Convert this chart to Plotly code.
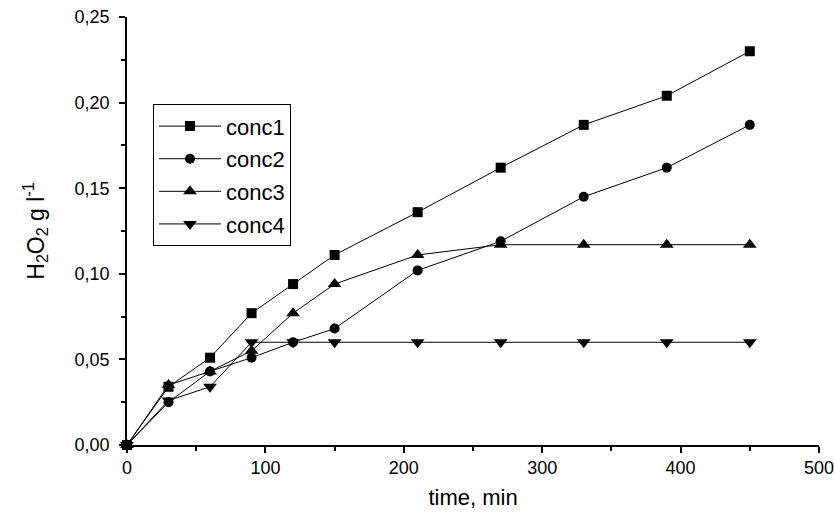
import plotly.graph_objects as go

time = [0, 30, 60, 90, 120, 150, 210, 270, 330, 390, 450]
conc1 = [0.0, 0.034, 0.051, 0.077, 0.094, 0.111, 0.136, 0.162, 0.187, 0.204, 0.230]
conc2 = [0.0, 0.025, 0.043, 0.051, 0.060, 0.068, 0.102, 0.119, 0.145, 0.162, 0.187]
conc3 = [0.0, 0.035, 0.043, 0.055, 0.077, 0.094, 0.111, 0.117, 0.117, 0.117, 0.117]
conc4 = [0.0, 0.026, 0.034, 0.060, 0.060, 0.060, 0.060, 0.060, 0.060, 0.060, 0.060]

series = [
    ("conc1", conc1, "square", 10),
    ("conc2", conc2, "circle", 10),
    ("conc3", conc3, "triangle-up", 12),
    ("conc4", conc4, "triangle-down", 12),
]

FONT = "Arial"

fig = go.Figure()
for i, (name, vals, sym, sz) in enumerate(series):
    fig.add_trace(go.Scatter(
        x=time, y=vals, name=name, mode="lines+markers",
        line=dict(color="black", width=1),
        marker=dict(symbol=sym, size=sz, color="black"),
        cliponaxis=False,
        legendgroup=f"g{i}",
    ))

fig.update_layout(
    width=834, height=519,
    margin=dict(l=127, r=15, t=17, b=74, autoexpand=False),
    paper_bgcolor="white", plot_bgcolor="white",
    separators=", ",
    font=dict(family=FONT, color="black", size=17),
    showlegend=True,
    legend=dict(
        x=0.0376, y=0.796, xanchor="left", yanchor="top",
        bordercolor="black", borderwidth=1,
        font=dict(size=22, family=FONT),
        tracegroupgap=1,
        itemwidth=62,
        bgcolor="white",
    ),
    xaxis=dict(
        range=[0, 500], tickmode="linear", tick0=0, dtick=100,
        automargin=False,
        showgrid=False, zeroline=False,
        showline=True, linecolor="black", linewidth=1.5,
        ticks="outside", ticklen=6, tickwidth=1.5, tickcolor="black",
        minor=dict(ticks="outside", ticklen=4, tickwidth=1.5, dtick=50, tickcolor="black"),
        tickfont=dict(size=18),
        ticklabeloverflow="allow",
        title=dict(text="time, min", font=dict(size=22), standoff=12),
    ),
    yaxis=dict(
        range=[0, 0.25], tickmode="linear", tick0=0, dtick=0.05,
        automargin=False,
        tickformat=".2f",
        showgrid=False, zeroline=False,
        showline=True, linecolor="black", linewidth=1.5,
        ticks="outside", ticklen=6, tickwidth=1.5, tickcolor="black",
        minor=dict(ticks="outside", ticklen=4, tickwidth=1.5, dtick=0.025, tickcolor="black"),
        tickfont=dict(size=18),
        ticklabelstandoff=6,
        ticklabeloverflow="allow",
        title=dict(text="H<sub>2</sub>O<sub>2</sub> g l<sup>-1</sup>", font=dict(size=23), standoff=24),
    ),
)

fig.write_html("out.html")
